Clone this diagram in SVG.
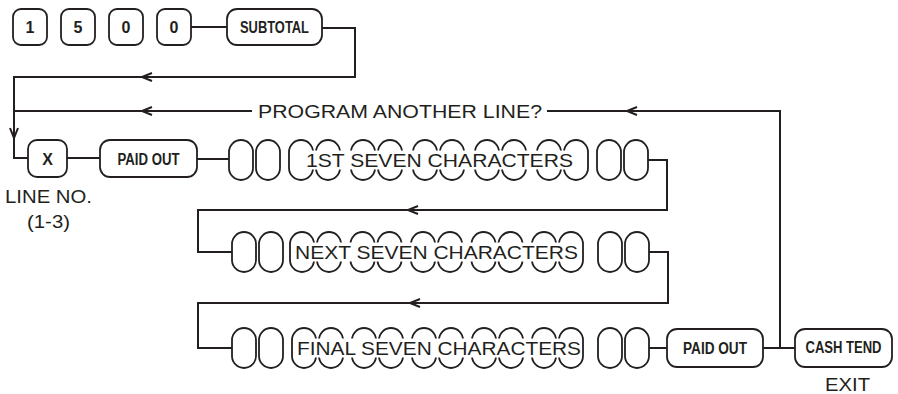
<svg xmlns="http://www.w3.org/2000/svg" xmlns:xlink="http://www.w3.org/1999/xlink" width="898" height="394" viewBox="0 0 898 394">
<style>
.k{fill:#fff;stroke:#231f20;stroke-width:1.8}
.c{fill:none;stroke:#231f20;stroke-width:2}
.kl{font-family:"Liberation Sans",Arial,sans-serif;font-weight:bold;font-size:16px;text-anchor:middle;fill:#231f20}
.t{font-family:"Liberation Sans",Arial,sans-serif;font-size:18px;fill:#231f20}
.g{font-family:"Liberation Sans",Arial,sans-serif;font-size:19px;fill:#231f20}
.band{fill:#fff;stroke:none}
</style>
<defs>
<g id="pair"><rect class="k" x="0" y="-20" width="24" height="40" rx="12"/><rect class="k" x="27" y="-20" width="24" height="40" rx="12"/></g>
</defs>
<rect width="898" height="394" fill="#fff"/>
<g id="connectors">
<path class="c" d="M191,27 H227"/>
<path class="c" d="M322,28 H355 V77 H14 V158 H28"/>
<path class="c" d="M252,111 H14"/>
<path class="c" d="M547,111 H780 V348"/>
<path class="c" d="M10,128 L14,138 L18,128"/>
<path class="c" d="M152,73 L142,77 L152,81"/>
<path class="c" d="M152,107 L142,111 L152,115"/>
<path class="c" d="M637,107 L627,111 L637,115"/>
<path class="c" d="M67,158 H100"/>
<path class="c" d="M197,159 H229"/>
<path class="c" d="M648,160 H667 V210 H198 V252 H232"/>
<path class="c" d="M418,206 L408,210 L418,214"/>
<path class="c" d="M649,252 H668 V303 H198 V348 H232"/>
<path class="c" d="M420,299 L410,303 L420,307"/>
<path class="c" d="M649,348 H667"/>
<path class="c" d="M763,348 H795"/>
</g>
<g id="key1"><rect class="k" x="13" y="9" width="34" height="36" rx="8"/><text class="kl" x="30" y="33">1</text></g>
<g id="key5"><rect class="k" x="61" y="9" width="34" height="36" rx="8"/><text class="kl" x="78" y="33">5</text></g>
<g id="key0a"><rect class="k" x="109" y="9" width="34" height="36" rx="8"/><text class="kl" x="126" y="33">0</text></g>
<g id="key0b"><rect class="k" x="157" y="9" width="34" height="36" rx="8"/><text class="kl" x="174" y="33">0</text></g>
<g id="subtotal"><rect class="k" x="227" y="9" width="95" height="36" rx="10"/><text class="kl" x="274.5" y="33" textLength="69" lengthAdjust="spacingAndGlyphs">SUBTOTAL</text></g>
<g id="prompt"><text class="t" x="258" y="118" textLength="284" lengthAdjust="spacingAndGlyphs">PROGRAM ANOTHER LINE?</text></g>
<g id="keyX"><rect class="k" x="28" y="140" width="39" height="37" rx="9"/><text class="kl" x="47.5" y="164.5">X</text></g>
<g id="lineno"><text class="t" x="5" y="203" textLength="87" lengthAdjust="spacingAndGlyphs">LINE NO.</text><text class="t" x="27" y="228" textLength="43" lengthAdjust="spacingAndGlyphs">(1-3)</text></g>
<g id="paidout1"><rect class="k" x="100" y="140" width="97" height="37" rx="10"/><text class="kl" x="148.5" y="164.5" textLength="62" lengthAdjust="spacingAndGlyphs">PAID OUT</text></g>
<g id="row1">
<use xlink:href="#pair" x="229" y="160"/>
<use xlink:href="#pair" x="289" y="160"/><use xlink:href="#pair" x="351" y="160"/><use xlink:href="#pair" x="413" y="160"/><use xlink:href="#pair" x="475" y="160"/><use xlink:href="#pair" x="537" y="160"/>
<rect class="band" x="291" y="150.5" width="295" height="19"/>
<text class="g" x="306" y="167" textLength="267" lengthAdjust="spacingAndGlyphs">1ST SEVEN CHARACTERS</text>
<use xlink:href="#pair" x="597" y="160"/>
</g>
<g id="row2">
<use xlink:href="#pair" x="232" y="252"/>
<use xlink:href="#pair" x="290" y="252"/><use xlink:href="#pair" x="350.5" y="252"/><use xlink:href="#pair" x="411" y="252"/><use xlink:href="#pair" x="471.5" y="252"/><use xlink:href="#pair" x="532" y="252"/>
<rect class="band" x="292" y="242.5" width="289" height="19"/>
<text class="g" x="295" y="259" textLength="283" lengthAdjust="spacingAndGlyphs">NEXT SEVEN CHARACTERS</text>
<use xlink:href="#pair" x="598" y="252"/>
</g>
<g id="row3">
<use xlink:href="#pair" x="232" y="348"/>
<use xlink:href="#pair" x="292" y="348"/><use xlink:href="#pair" x="352" y="348"/><use xlink:href="#pair" x="412" y="348"/><use xlink:href="#pair" x="472" y="348"/><use xlink:href="#pair" x="532" y="348"/>
<rect class="band" x="294" y="338.5" width="287" height="19"/>
<text class="g" x="297" y="355" textLength="284" lengthAdjust="spacingAndGlyphs">FINAL SEVEN CHARACTERS</text>
<use xlink:href="#pair" x="598" y="348"/>
</g>
<g id="paidout2"><rect class="k" x="667" y="329" width="96" height="38" rx="10"/><text class="kl" x="715" y="354" textLength="64" lengthAdjust="spacingAndGlyphs">PAID OUT</text></g>
<g id="cashtend"><rect class="k" x="795" y="329" width="97" height="38" rx="10"/><text class="kl" x="843.5" y="353" font-size="13" textLength="76" lengthAdjust="spacingAndGlyphs">CASH TEND</text></g>
<g id="exit"><text class="t" x="825" y="391" textLength="45" lengthAdjust="spacingAndGlyphs">EXIT</text></g>
</svg>
